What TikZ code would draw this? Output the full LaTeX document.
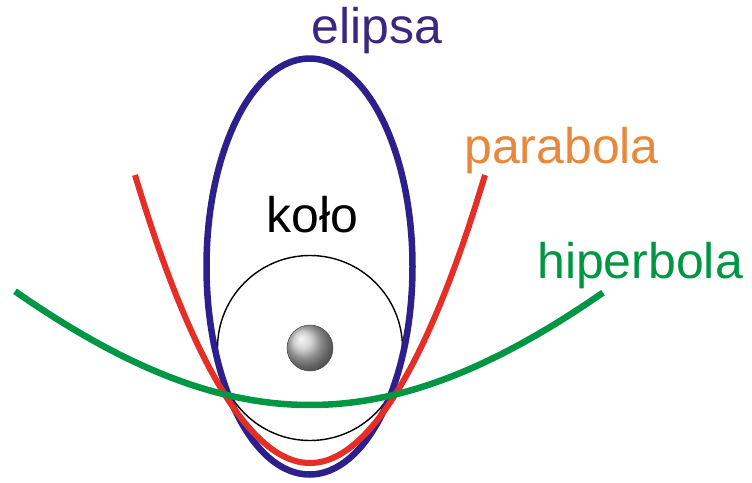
\documentclass[tikz,border=0pt]{standalone}
\usepackage{fontspec}
\setmainfont{Liberation Sans}
\usepackage{tikz}

\definecolor{elipsacol}{RGB}{46,32,140}
\definecolor{elipsatxt}{RGB}{58,40,128}
\definecolor{parabolacol}{RGB}{228,46,38}
\definecolor{parabolatxt}{RGB}{232,136,58}
\definecolor{hipercol}{RGB}{0,150,68}

\begin{document}
\begin{tikzpicture}[x=1pt, y=-1pt, line join=round]
      \useasboundingbox (0,0) rectangle (752,482);
      \def\cx{310}
      \def\fsz{\fontsize{50}{56}\selectfont}

      \coordinate (O) at (\cx,348);
      \coordinate (E) at (309.5,266.5);
      \coordinate (PL) at (135,175);
      \coordinate (PV) at (\cx,463);
      \coordinate (PR) at (485,175);

      % Circle
      \draw[black, line width=1.4pt] (O) circle (92.5);
      % Ellipse
      \draw[elipsacol, line width=6.5pt] (E) ellipse (103 and 208);
      % Parabola
      \draw[parabolacol, line width=6pt] (PL) parabola bend (PV) (PR);
      % Hyperbola
      \draw[hipercol, line width=6.5pt] plot[domain=-295:293, samples=80]
            ({\cx+\x},{405-469*(sqrt(1+(\x/400)^2)-1)});

      % central body
      \shade[ball color=gray!45] (O) circle (23);
      \draw[gray!60!black, line width=0.5pt] (O) circle (23);

      \node[anchor=base west, inner sep=0, text=elipsatxt] (lelipsa) at (311,43) {\fsz elipsa};
      \node[anchor=base west, inner sep=0, text=parabolatxt] (lparabola) at (464,163) {\fsz parabola};
      \node[anchor=base west, inner sep=0, text=hipercol] (lhiperbola) at (537,278) {\fsz hiperbola};
      \node[anchor=base west, inner sep=0, text=black] (lkolo) at (266,232) {\fsz koło};

    \end{tikzpicture}
\end{document}
